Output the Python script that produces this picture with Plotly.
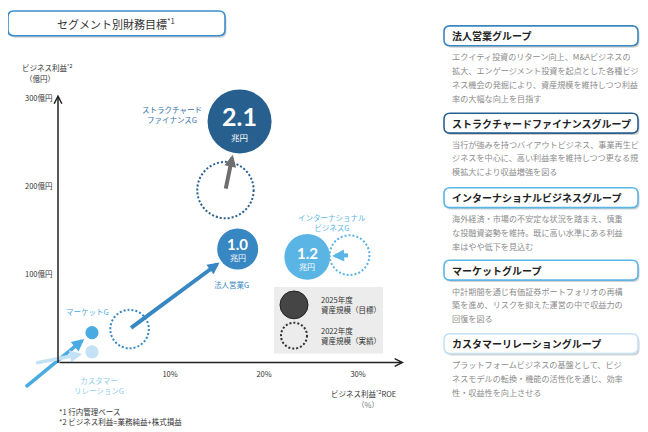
import plotly.graph_objects as go

# the page body keeps an 8px margin, so the figure is 8px smaller than the window on each side
OFF = 8
W, H = 648 - OFF, 432 - OFF
JP = "Noto Sans CJK JP"

# segment data (2025 target vs 2022 actual)
segments = ["ストラクチャード<br>ファイナンスG", "法人営業G", "インターナショナル<br>ビジネスG", "マーケットG", "カスタマー<br>リレーションG"]
roe_2025 = [17.4, 17.2, 24.6, 1.7, 1.7]
profit_2025 = [274, 129, 120, 34, 12]
roe_2022 = [15.9, 5.7, 29.1, -5.5, -4.4]
profit_2022 = [196, 38, 122, -29, -1]
assets_2025 = [2.1, 1.0, 1.2, 0.15, 0.15]
assets_2022 = [1.7, 0.9, 0.95, None, None]
asset_labels = ["2.1", "1.0", "1.2", "", ""]

x_ticks = [10, 20, 30]
x_ticktext = ["10%", "20%", "30%"]
y_ticks = [100, 200, 300]
y_ticktext = ["100億円", "200億円", "300億円"]

headers = ["法人営業グループ", "ストラクチャードファイナンスグループ", "インターナショナルビジネスグループ",
           "マーケットグループ", "カスタマーリレーショングループ"]
bodies = [
    ["エクイティ投資のリターン向上、M&Aビジネスの", "拡大、エンゲージメント投資を起点とした各種ビジ",
     "ネス機会の発掘により、資産規模を維持しつつ利益", "率の大幅な向上を目指す"],
    ["当行が強みを持つバイアウトビジネス、事業再生ビ", "ジネスを中心に、高い利益率を維持しつつ更なる規",
     "模拡大により収益増強を図る"],
    ["海外経済・市場の不安定な状況を踏まえ、慎重", "な投融資姿勢を維持。既に高い水準にある利益",
     "率はやや低下を見込む"],
    ["中計期間を通じ有価証券ポートフォリオの再構", "築を進め、リスクを抑えた運営の中で収益力の",
     "回復を図る"],
    ["プラットフォームビジネスの基盤として、ビジ", "ネスモデルの転換・機能の活性化を通じ、効率",
     "性・収益性を向上させる"],
]

# styles
colors = ["#27608f", "#3787c2", "#5bb5e4", "#4aabe2", "#c3e2f6"]
label_colors = ["#3670a8", "#3787c2", "#5bb5e4", "#4aabe2", "#8ecbee"]
arrow_colors = ["#6e6e6e", "#3787c2", "#5bb5e4", "#4aabe2", "#c3e2f6"]
header_borders = ["#3a87c0", "#27608f", "#5bb5e4", "#5bb5e4", "#c3e2f6"]
label_shift = [(-68, 7), (-6, -35), (25, 34), (-4, 21), (7, -34)]
num_font = [25, 15, 15, 0, 0]
num_shift = [5, 5.5, 3.5, 0, 0]
unit_shift = [-16, -8, -10, 0, 0]
header_y = [23, 111, 186, 259, 333]


def size_of(a):
    return 41 * a ** 0.6


# screen pixel -> paper fraction
def px(x):
    return (x - OFF) / W


def py(y):
    return 1 - (y - OFF) / H


def rrect(x0, y0, x1, y1, r=6):
    pts = [
        ("M", x0 + r, y0), ("L", x1 - r, y0), ("Q", x1, y0, x1, y0 + r), ("L", x1, y1 - r),
        ("Q", x1, y1, x1 - r, y1), ("L", x0 + r, y1), ("Q", x0, y1, x0, y1 - r),
        ("L", x0, y0 + r), ("Q", x0, y0, x0 + r, y0),
    ]
    out = ""
    for p in pts:
        cmd, vals = p[0], p[1:]
        coords = []
        for i in range(0, len(vals), 2):
            coords.append(f"{px(vals[i]):.5f},{py(vals[i + 1]):.5f}")
        out += cmd + " " + " ".join(coords) + " "
    return out + "Z"


def box(x0, y0, x1, y1, color, width=1.6):
    return [
        dict(type="path", xref="paper", yref="paper", path=rrect(x0 + 1.5, y0 + 2, x1 + 1.5, y1 + 2),
             fillcolor="rgba(0,0,0,0.18)", line=dict(width=0), layer="below"),
        dict(type="path", xref="paper", yref="paper", path=rrect(x0, y0, x1, y1),
             fillcolor="white", line=dict(color=color, width=width), layer="below"),
    ]


def note(text, x, y, font, xanchor="center", align="center"):
    return dict(x=px(x), y=py(y), xref="paper", yref="paper", text=text, showarrow=False,
                xanchor=xanchor, yanchor="middle", align=align, font=font)


fig = go.Figure()

sizes = [size_of(a) for a in assets_2025]
fig.add_trace(go.Scatter(
    x=roe_2025, y=profit_2025, mode="markers", cliponaxis=False, hoverinfo="skip",
    marker=dict(size=sizes, color=colors, line=dict(width=0), opacity=1),
))

shapes = []
annotations = []

# 2022 dotted circles
for i in range(len(segments)):
    if assets_2022[i] is None:
        continue
    r = size_of(assets_2022[i]) / 2
    shapes.append(dict(type="circle", xref="x", yref="y", xsizemode="pixel", ysizemode="pixel",
                       xanchor=roe_2022[i], yanchor=profit_2022[i], x0=-r, x1=r, y0=-r, y1=r,
                       line=dict(color=colors[i], width=2, dash="2px,2px")))

# arrows 2022 -> 2025
for i in range(len(segments)):
    r = sizes[i] / 2
    annotations.append(dict(
        x=roe_2025[i], y=profit_2025[i], xref="x", yref="y", ax=roe_2022[i], ay=profit_2022[i],
        axref="x", ayref="y", text="", showarrow=True, arrowhead=2, arrowsize=0.6 if i < 3 else 0.7,
        arrowwidth=4 if i < 3 else 3.5, arrowcolor=arrow_colors[i], standoff=r + (2 if i < 3 else 3.5)))

# bubble labels
for i in range(len(segments)):
    annotations.append(dict(
        x=roe_2025[i], y=profit_2025[i], xref="x", yref="y", text=segments[i], showarrow=False,
        xshift=label_shift[i][0], yshift=label_shift[i][1], align="center",
        font=dict(family=JP, size=7.5, color=label_colors[i])))
    if asset_labels[i]:
        annotations.append(dict(
            x=roe_2025[i], y=profit_2025[i], xref="x", yref="y", text=f"<b>{asset_labels[i]}</b>",
            showarrow=False, yshift=num_shift[i], font=dict(family="Lato", size=num_font[i], color="white")))
        annotations.append(dict(
            x=roe_2025[i], y=profit_2025[i], xref="x", yref="y", text="兆円", showarrow=False,
            yshift=unit_shift[i], font=dict(family=JP, size=8.5 if i == 0 else 8, color="white")))

# axes arrows
annotations.append(dict(x=px(58), y=py(92), xref="paper", yref="paper", ax=0, ay=270, text="",
                        showarrow=True, arrowhead=5, arrowsize=1, arrowwidth=1.5, arrowcolor="#222"))
annotations.append(dict(x=px(404), y=py(362), xref="paper", yref="paper", ax=-346, ay=0, text="",
                        showarrow=True, arrowhead=5, arrowsize=1, arrowwidth=1.5, arrowcolor="#222"))

small = dict(family=JP, size=7.5, color="#333")
annotations += [
    note("ビジネス利益<sup>*2</sup>", 47, 65, small),
    note("（億円）", 40, 76, small),
    note("ビジネス利益<sup>*2</sup>ROE", 363, 393, small),
    note("（%）", 368, 404, dict(family=JP, size=7.5, color="#777")),
    note("*1 行内管理ベース", 57, 411, small, "left", "left"),
    note("*2 ビジネス利益=業務純益+株式損益", 57, 421, small, "left", "left"),
]

# legend
shapes.append(dict(type="rect", xref="paper", yref="paper", x0=px(274), x1=px(383), y0=py(353), y1=py(286),
                   fillcolor="#ececec", line=dict(width=0), layer="below"))
shapes.append(dict(type="circle", xref="paper", yref="paper", x0=px(280), x1=px(308), y0=py(318), y1=py(290),
                   fillcolor="#454545", line=dict(color="#222", width=1)))
shapes.append(dict(type="circle", xref="paper", yref="paper", x0=px(281), x1=px(307), y0=py(348), y1=py(322),
                   line=dict(color="#333", width=2, dash="2px,2px")))
annotations += [
    note("2025年度<br>資産規模（目標）", 319, 304, small, "left", "left"),
    note("2022年度<br>資産規模（実績）", 319, 335, small, "left", "left"),
]

# title box
shapes += box(8, 8, 225, 33, "#3c8dcb")
annotations.append(note("セグメント別財務目標<sup>*1</sup>", 116, 20.5, dict(family=JP, size=11, color="#333")))

# right panel
for i, (head, lines) in enumerate(zip(headers, bodies)):
    y0 = header_y[i]
    shapes += box(444, y0, 638, y0 + 20, header_borders[i])
    annotations.append(note(f"<b>{head}</b>", 450, y0 + 10, dict(family=JP, size=10, color="#222"), "left", "left"))
    for j, line in enumerate(lines):
        annotations.append(note(line, 450, y0 + 31 + j * 14, dict(family=JP, size=8.15, color="#8c8c8c"),
                                "left", "left"))

fig.update_layout(
    width=W, height=H, margin=dict(l=0, r=0, t=0, b=0),
    paper_bgcolor="white", plot_bgcolor="white", showlegend=False,
    shapes=shapes, annotations=annotations,
    xaxis=dict(domain=[px(58), px(402)], range=[-1.915, 34.68], showgrid=False, zeroline=False, showline=False,
               tickvals=x_ticks, ticktext=x_ticktext, ticks="outside", ticklen=5, tickcolor="rgba(0,0,0,0)",
               tickfont=dict(family=JP, size=7.5, color="#333"), fixedrange=True),
    yaxis=dict(domain=[py(362), py(93)], range=[0, 303.6], showgrid=False, zeroline=False, showline=False,
               tickvals=y_ticks, ticktext=y_ticktext, ticks="outside", ticklen=3, tickcolor="rgba(0,0,0,0)",
               tickfont=dict(family=JP, size=7.5, color="#333"), fixedrange=True),
)

fig.write_html("out.html")
